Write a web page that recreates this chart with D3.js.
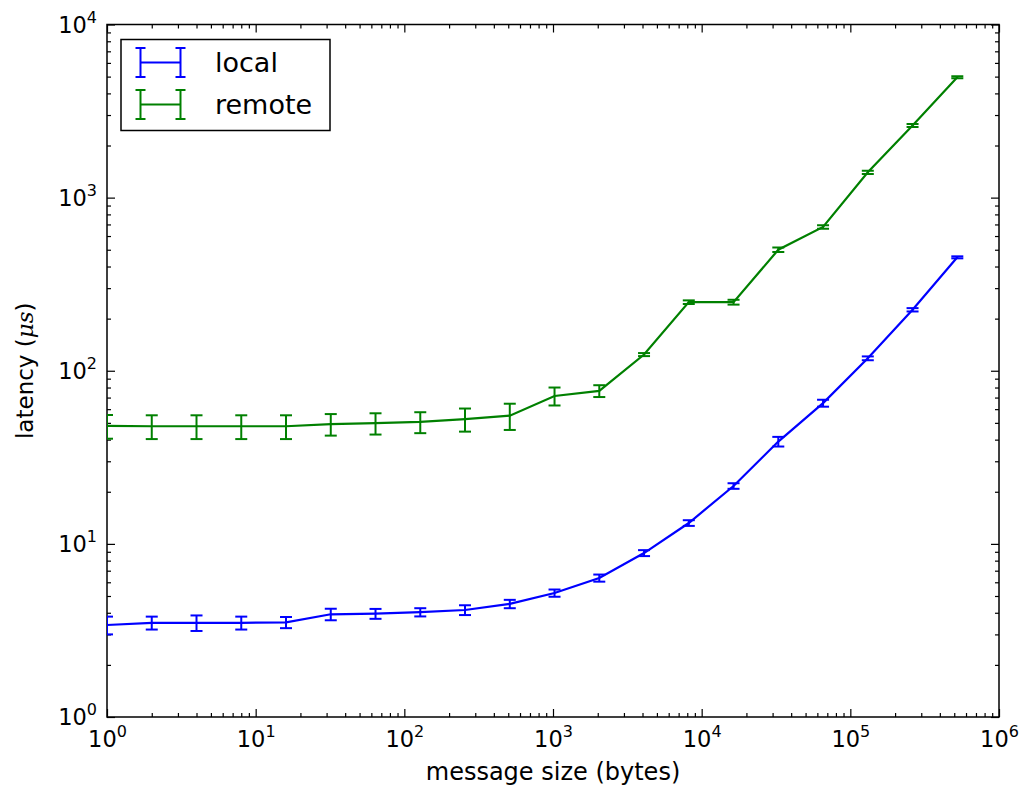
<!DOCTYPE html>
<html>
<head>
<meta charset="utf-8">
<script src="https://cdn.jsdelivr.net/npm/d3@7"></script>
<style>
  html, body { margin: 0; padding: 0; background: #fff; }
  svg { display: block; }
  text { font-family: "DejaVu Sans", sans-serif; fill: #000; }
</style>
</head>
<body>
<svg id="chart" width="1023" height="793"></svg>
<script>
// ---- data ----
const sizes = [1, 2, 4, 8, 16, 32, 64, 128, 256, 512, 1024, 2048, 4096, 8192, 16384, 32768, 65536, 131072, 262144, 524288];
const localMean = [3.40, 3.50, 3.50, 3.50, 3.52, 3.92, 3.95, 4.03, 4.15, 4.50, 5.20, 6.35, 8.85, 13.2, 21.6, 39.0, 65.0, 118, 225, 452];
const localErr  = [0.40, 0.30, 0.36, 0.30, 0.26, 0.30, 0.26, 0.22, 0.27, 0.25, 0.25, 0.30, 0.35, 0.50, 0.80, 2.5, 3.0, 3.0, 5.0, 6.0];
const remoteMean = [48.0, 47.8, 47.8, 47.8, 47.8, 49.2, 49.8, 50.6, 52.5, 55.0, 71.5, 76.5, 124, 249, 249, 500, 677, 1400, 2610, 4960];
const remoteErr  = [7.5, 7.5, 7.5, 7.5, 7.5, 7.0, 7.0, 7.0, 8.0, 9.5, 8.5, 6.0, 2.5, 6.0, 8.0, 15, 15, 30, 50, 60];
const seriesNames = ["local", "remote"];
const seriesColors = ["#0000ff", "#008000"];
const xMajorTicks = [1, 10, 100, 1000, 10000, 100000, 1000000];
const yMajorTicks = [1, 10, 100, 1000, 10000];
const xLabel = "message size (bytes)";

// ---- layout ----
const svg = d3.select("#chart");
const L = 107, R = 999, T = 24.5, B = 717;
const x = d3.scaleLog().domain([1, 1e6]).range([L, R]);
const y = d3.scaleLog().domain([1, 1e4]).range([B, T]);

function minorTicks(majors) {
  const out = [];
  for (let i = 0; i < majors.length - 1; i++)
    for (let k = 2; k <= 9; k++) out.push(majors[i] * k);
  return out;
}
const xMinor = minorTicks(xMajorTicks);
const yMinor = minorTicks(yMajorTicks);

// clip
svg.append("defs").append("clipPath").attr("id", "plotclip")
  .append("rect").attr("x", L).attr("y", T).attr("width", R - L).attr("height", B - T);

function styleAxis(g) {
  g.select(".domain").remove();
  g.selectAll(".tick line").attr("stroke", "#000").attr("stroke-width", 1.2);
}

// bottom
svg.append("g").attr("transform", `translate(0,${B})`)
  .call(d3.axisBottom(x).tickValues(xMinor).tickSize(-4).tickFormat("")).call(styleAxis);
const xb = svg.append("g").attr("transform", `translate(0,${B})`)
  .call(d3.axisBottom(x).tickValues(xMajorTicks).tickSize(-8).tickPadding(12).tickFormat("")).call(styleAxis);
// top
svg.append("g").attr("transform", `translate(0,${T})`)
  .call(d3.axisTop(x).tickValues(xMinor).tickSize(-4).tickFormat("")).call(styleAxis);
svg.append("g").attr("transform", `translate(0,${T})`)
  .call(d3.axisTop(x).tickValues(xMajorTicks).tickSize(-8).tickFormat("")).call(styleAxis);
// left
svg.append("g").attr("transform", `translate(${L},0)`)
  .call(d3.axisLeft(y).tickValues(yMinor).tickSize(-4).tickFormat("")).call(styleAxis);
const yl = svg.append("g").attr("transform", `translate(${L},0)`)
  .call(d3.axisLeft(y).tickValues(yMajorTicks).tickSize(-8).tickFormat("")).call(styleAxis);
// right
svg.append("g").attr("transform", `translate(${R},0)`)
  .call(d3.axisRight(y).tickValues(yMinor).tickSize(-4).tickFormat("")).call(styleAxis);
svg.append("g").attr("transform", `translate(${R},0)`)
  .call(d3.axisRight(y).tickValues(yMajorTicks).tickSize(-8).tickFormat("")).call(styleAxis);

// tick labels with superscripts
function powLabel(sel, v, anchor) {
  const e = Math.round(Math.log10(v));
  const t = sel.append("text").attr("text-anchor", anchor).style("font-size", "22.5px");
  t.append("tspan").text("10");
  t.append("tspan").attr("dy", -10).style("font-size", "16px").text(String(e));
  return t;
}
xb.selectAll(".tick").each(function(d) {
  powLabel(d3.select(this), d, "middle").attr("y", 30).attr("x", 0);
});
yl.selectAll(".tick").each(function(d) {
  powLabel(d3.select(this), d, "end").attr("x", -10).attr("y", 7.5);
});

// frame
svg.append("rect").attr("x", L).attr("y", T).attr("width", R - L).attr("height", B - T)
  .attr("fill", "none").attr("stroke", "#000").attr("stroke-width", 1.5);

// axis labels
svg.append("text").attr("x", (L + R) / 2).attr("y", 780).attr("text-anchor", "middle")
  .style("font-size", "24px").text(xLabel);
const ylab = svg.append("text").attr("transform", `translate(33,${(T + B) / 2}) rotate(-90)`)
  .attr("text-anchor", "middle").style("font-size", "23px");
ylab.append("tspan").text("latency (");
ylab.append("tspan").style("font-family", "'DejaVu Serif', serif").style("font-style", "italic").text("\u03bcs");
ylab.append("tspan").text(")");

// series
const series = [
  { name: seriesNames[0], color: seriesColors[0], mean: localMean, err: localErr },
  { name: seriesNames[1], color: seriesColors[1], mean: remoteMean, err: remoteErr }
];
const plot = svg.append("g").attr("clip-path", "url(#plotclip)");
const line = d3.line().x((d) => x(d.s)).y((d) => y(d.m));
const cap = 6;
series.forEach((s) => {
  const pts = sizes.map((sz, i) => ({ s: sz, m: s.mean[i], e: s.err[i] }));
  const g = plot.append("g");
  g.append("path").datum(pts).attr("d", line).attr("fill", "none")
    .attr("stroke", s.color).attr("stroke-width", 2.2);
  const eb = g.selectAll(".eb").data(pts).join("g")
    .attr("stroke", s.color).attr("stroke-width", 2);
  eb.append("line").attr("x1", (d) => x(d.s)).attr("x2", (d) => x(d.s))
    .attr("y1", (d) => y(d.m - d.e)).attr("y2", (d) => y(d.m + d.e));
  eb.append("line").attr("x1", (d) => x(d.s) - cap).attr("x2", (d) => x(d.s) + cap)
    .attr("y1", (d) => y(d.m - d.e)).attr("y2", (d) => y(d.m - d.e));
  eb.append("line").attr("x1", (d) => x(d.s) - cap).attr("x2", (d) => x(d.s) + cap)
    .attr("y1", (d) => y(d.m + d.e)).attr("y2", (d) => y(d.m + d.e));
});

// legend
const lg = svg.append("g");
lg.append("rect").attr("x", 121).attr("y", 39.5).attr("width", 209).attr("height", 91)
  .attr("fill", "#fff").attr("stroke", "#000").attr("stroke-width", 1.5);
series.forEach((s, i) => {
  const cy = 62.5 + i * 42;
  const gi = lg.append("g").attr("stroke", s.color).attr("stroke-width", 2);
  gi.append("line").attr("x1", 140.5).attr("x2", 180.5).attr("y1", cy).attr("y2", cy).attr("stroke-width", 2.2);
  [140.5, 180.5].forEach((cx) => {
    gi.append("line").attr("x1", cx).attr("x2", cx).attr("y1", cy - 14.5).attr("y2", cy + 14.5);
    gi.append("line").attr("x1", cx - 5).attr("x2", cx + 5).attr("y1", cy - 14.5).attr("y2", cy - 14.5);
    gi.append("line").attr("x1", cx - 5).attr("x2", cx + 5).attr("y1", cy + 14.5).attr("y2", cy + 14.5);
  });
  lg.append("text").attr("x", 215).attr("y", cy + 9.5).style("font-size", "27px").text(s.name);
});
</script>
</body>
</html>
